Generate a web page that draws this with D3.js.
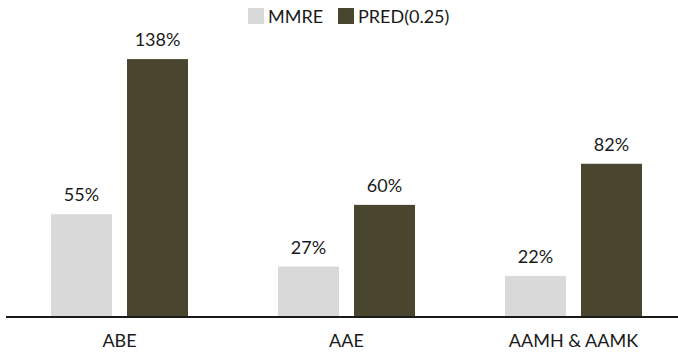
<!DOCTYPE html>
<html>
<head>
<meta charset="utf-8">
<script src="https://cdn.jsdelivr.net/npm/d3@7"></script>
<style>
  html, body { margin: 0; padding: 0; background: #fff; }
  svg { display: block; }
  text { font-family: Lato, "Open Sans", sans-serif; fill: #1a1a1a; }
</style>
</head>
<body>
<div id="chart"></div>
<script>
const categories = ['ABE', 'AAE', 'AAMH & AAMK'];
const seriesNames = ['MMRE', 'PRED(0.25)'];
const mmre = [0.55, 0.27, 0.22];
const pred = [1.38, 0.60, 0.82];
const seriesColors = ['#d9d9d9', '#4a452e'];

const width = 678;
const height = 353;
const baseY = 317;

const svg = d3.select('#chart')
  .append('svg')
  .attr('width', width)
  .attr('height', height)
  .attr('viewBox', `0 0 ${width} ${height}`);

const rows = categories.map((c, i) => ({ cat: c, values: [mmre[i], pred[i]] }));

const x0 = d3.scaleBand()
  .domain(categories)
  .range([6, 687]);

const x1 = d3.scaleBand()
  .domain(seriesNames)
  .range([45, 182])
  .paddingInner(15 / 76);

const y = d3.scaleLinear()
  .domain([0, 1.6])
  .range([baseY, 18]);

const fmt = d3.format('.0%');

const groups = svg.append('g')
  .selectAll('g')
  .data(rows)
  .join('g')
  .attr('transform', d => `translate(${x0(d.cat)},0)`);

groups.selectAll('rect')
  .data(d => d.values.map((v, i) => ({ key: seriesNames[i], v, i })))
  .join('rect')
  .attr('x', d => x1(d.key))
  .attr('y', d => y(d.v))
  .attr('width', x1.bandwidth())
  .attr('height', d => baseY - y(d.v))
  .attr('fill', d => seriesColors[d.i]);

groups.selectAll('text.val')
  .data(d => d.values.map((v, i) => ({ key: seriesNames[i], v, i })))
  .join('text')
  .attr('class', 'val')
  .attr('x', d => x1(d.key) + x1.bandwidth() / 2)
  .attr('y', d => y(d.v) - 13)
  .attr('text-anchor', 'middle')
  .attr('font-size', '18px')
  .text(d => fmt(d.v));

// category axis
const xAxis = svg.append('g')
  .attr('transform', `translate(0,${baseY})`)
  .call(d3.axisBottom(x0).tickSize(0).tickPadding(0));

xAxis.select('.domain').remove();
xAxis.selectAll('text')
  .attr('dy', null)
  .attr('y', 30)
  .attr('font-size', '18px')
  .attr('font-family', 'Lato, "Open Sans", sans-serif')
  .attr('fill', '#1a1a1a');

svg.append('line')
  .attr('x1', 6)
  .attr('x2', width)
  .attr('y1', baseY)
  .attr('y2', baseY)
  .attr('stroke', '#1a1a1a')
  .attr('stroke-width', 2);

// legend
const legendX = [248, 338];
const legend = svg.append('g')
  .selectAll('g')
  .data(seriesNames)
  .join('g')
  .attr('transform', (d, i) => `translate(${legendX[i]},8)`);

legend.append('rect')
  .attr('width', 16)
  .attr('height', 16)
  .attr('fill', (d, i) => seriesColors[i]);

legend.append('text')
  .attr('x', 20)
  .attr('y', 15)
  .attr('font-size', '18px')
  .text(d => d);
</script>
</body>
</html>
